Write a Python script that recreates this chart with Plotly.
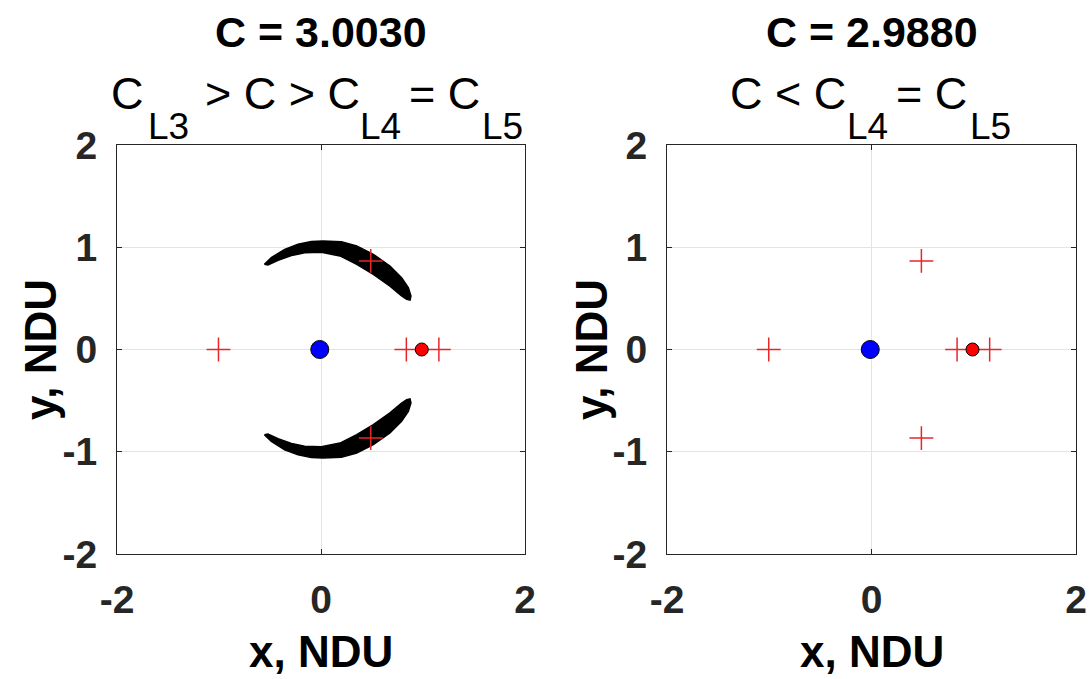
import plotly.graph_objects as go

# ---------------- data ----------------
mu = 0.01215
titles = ["C = 3.0030", "C = 2.9880"]

# Lagrange points (x, y)
lag_x = [0.8369, 1.1557, -1.0051, 0.4879, 0.4879]
lag_y = [0.0, 0.0, 0.0, 0.8660, -0.8660]

# primaries
earth_x = [-mu]
earth_y = [0.0]
moon_x = [1 - mu]
moon_y = [0.0]

# forbidden region outline (C = 3.0030): upper crescent
upper_x = [-0.555, -0.487, -0.356, -0.225, -0.095, 0.020, 0.200, 0.350, 0.513, 0.676,
           0.790, 0.856, 0.882, 0.873, 0.840, 0.790, 0.676, 0.513, 0.350, 0.186,
           0.003, -0.160, -0.290, -0.420, -0.520, -0.555]
upper_y = [0.833, 0.899, 0.980, 1.030, 1.056, 1.062, 1.055, 1.013, 0.931, 0.817,
           0.703, 0.605, 0.523, 0.483, 0.490, 0.523, 0.620, 0.735, 0.833, 0.915,
           0.950, 0.945, 0.918, 0.873, 0.827, 0.833]
# lower crescent
lower_x = [-0.555, -0.487, -0.356, -0.225, -0.095, 0.020, 0.200, 0.350, 0.513, 0.676,
           0.790, 0.856, 0.882, 0.873, 0.840, 0.790, 0.676, 0.513, 0.350, 0.186,
           0.003, -0.160, -0.290, -0.420, -0.520, -0.555]
lower_y = [-0.833, -0.899, -0.980, -1.030, -1.056, -1.062, -1.055, -1.013, -0.931, -0.817,
           -0.703, -0.605, -0.523, -0.483, -0.490, -0.523, -0.620, -0.735, -0.833, -0.915,
           -0.950, -0.945, -0.918, -0.873, -0.827, -0.833]

x_ticks = [-2, 0, 2]
x_ticktext = ["-2", "0", "2"]
y_ticks = [-2, -1, 0, 1, 2]
y_ticktext = ["-2", "-1", "0", "1", "2"]

# ---------------- figure ----------------
W, H = 1092, 679
FONT = "Liberation Sans, Arial, Helvetica, sans-serif"
TXT = "#262626"

fig = go.Figure()

def add_common(xa, ya):
    fig.add_trace(go.Scatter(x=lag_x, y=lag_y, mode="markers", xaxis=xa, yaxis=ya,
                             marker=dict(symbol="cross-thin", size=17,
                                         line=dict(color="#e8262a", width=1.5)),
                             showlegend=False, hoverinfo="skip"))
    fig.add_trace(go.Scatter(x=earth_x, y=earth_y, mode="markers", xaxis=xa, yaxis=ya,
                             marker=dict(size=18, color="#0000ff",
                                         line=dict(color="black", width=1)),
                             showlegend=False, hoverinfo="skip"))
    fig.add_trace(go.Scatter(x=moon_x, y=moon_y, mode="markers", xaxis=xa, yaxis=ya,
                             marker=dict(size=13, color="#ff0000",
                                         line=dict(color="black", width=1)),
                             showlegend=False, hoverinfo="skip"))

# left panel forbidden regions
for cx, cy in ((upper_x, upper_y), (lower_x, lower_y)):
    fig.add_trace(go.Scatter(x=cx, y=cy, mode="lines", fill="toself", xaxis="x", yaxis="y",
                             fillcolor="black", line=dict(color="black", width=1.5),
                             showlegend=False, hoverinfo="skip"))
add_common("x", "y")
add_common("x2", "y2")

def px_x(p):
    return p / W

def px_y(p):
    return 1 - p / H

ydom = [px_y(554), px_y(145)]
ax_common = dict(range=[-2, 2], showgrid=True, gridcolor="#e3e3e3", gridwidth=1,
                 zeroline=False, showline=True, linecolor=TXT, linewidth=1, mirror="ticks",
                 ticks="inside", ticklen=5, tickcolor=TXT, automargin=False,
                 tickfont=dict(family=FONT, size=39, color=TXT, weight="bold"))

fig.update_layout(
    width=W, height=H, margin=dict(l=0, r=0, t=0, b=0, pad=0, autoexpand=False),
    paper_bgcolor="white", plot_bgcolor="white",
    xaxis=dict(domain=[px_x(117), px_x(525)], tickvals=x_ticks, ticktext=x_ticktext,
               ticklabelstandoff=11, anchor="y", **ax_common),
    yaxis=dict(domain=ydom, tickvals=y_ticks, ticktext=y_ticktext,
               ticklabelstandoff=11, anchor="x", **ax_common),
    xaxis2=dict(domain=[px_x(667), px_x(1076)], tickvals=x_ticks, ticktext=x_ticktext,
                ticklabelstandoff=11, anchor="y2", **ax_common),
    yaxis2=dict(domain=ydom, tickvals=y_ticks, ticktext=y_ticktext,
                ticklabelstandoff=11, anchor="x2", **ax_common),
)

ann = []
def text(s, x, y, size, bold=False, angle=0, xanchor="center"):
    ann.append(dict(text=s, x=px_x(x), y=px_y(y), xref="paper", yref="paper",
                    xanchor=xanchor, yanchor="middle", showarrow=False, textangle=angle,
                    font=dict(family=FONT, size=size, color="black",
                              weight="bold" if bold else "normal")))

MAIN, SUB = 45, 37
YM, YS = 94, 126
# titles
text(titles[0], 321, 32, 43, bold=True)
text(titles[1], 872, 32, 43, bold=True)
# left subtitle pieces
text("C", 127, YM, MAIN)
text("L3", 168, YS, SUB)
text("&gt; C &gt; C", 282, YM, MAIN)
text("L4", 380, YS, SUB)
text("= C", 444, YM, MAIN)
text("L5", 503, YS, SUB)
# right subtitle pieces
text("C &lt; C", 788, YM, MAIN)
text("L4", 867, YS, SUB)
text("= C", 931, YM, MAIN)
text("L5", 990, YS, SUB)
# axis titles
text("x, NDU", 321, 651, 44, bold=True)
text("x, NDU", 872, 651, 44, bold=True)
text("y, NDU", 41, 350, 44, bold=True, angle=-90)
text("y, NDU", 592, 350, 44, bold=True, angle=-90)

fig.update_layout(annotations=ann)
fig.write_html("out.html")
